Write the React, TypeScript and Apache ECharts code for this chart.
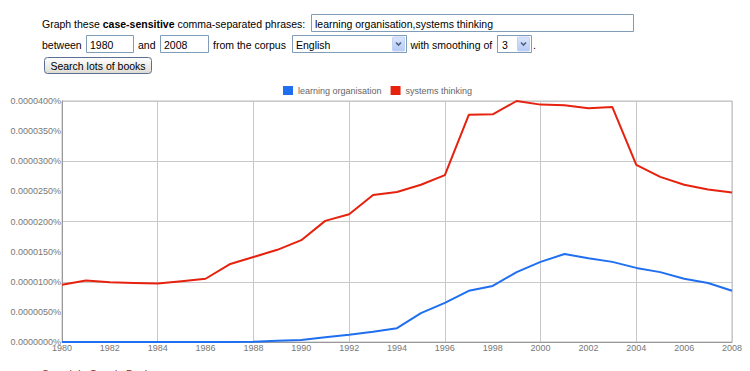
import React, { useEffect, useRef } from "react";
import * as echarts from "echarts";

const years: number[] = [
  1980, 1981, 1982, 1983, 1984, 1985, 1986, 1987, 1988, 1989, 1990, 1991, 1992, 1993, 1994,
  1995, 1996, 1997, 1998, 1999, 2000, 2001, 2002, 2003, 2004, 2005, 2006, 2007, 2008,
];

// values in percent
const learningOrganisation: number[] = [
  0.0000000, 0.0000000, 0.0000000, 0.0000000, 0.0000000, 0.0000000, 0.0000000, 0.0000000,
  0.00000005, 0.0000002, 0.00000035, 0.0000008, 0.0000012, 0.0000017, 0.0000023,
  0.0000048, 0.0000065, 0.0000085, 0.0000093, 0.0000116, 0.0000133, 0.0000146,
  0.0000139, 0.0000133, 0.0000123, 0.0000116, 0.0000105, 0.0000098, 0.0000085,
];

const systemsThinking: number[] = [
  0.0000095, 0.0000102, 0.0000099, 0.0000098, 0.0000097, 0.0000101, 0.0000105, 0.0000129,
  0.0000141, 0.0000153, 0.0000169, 0.0000201, 0.0000212, 0.0000244, 0.0000249,
  0.0000261, 0.0000277, 0.0000377, 0.0000378, 0.0000400, 0.0000394, 0.0000393,
  0.0000388, 0.0000390, 0.0000294, 0.0000274, 0.0000261, 0.0000253, 0.0000248,
];

const seriesNames: string[] = ["learning organisation", "systems thinking"];
const seriesColors: string[] = ["#1f6ff0", "#e6210e"];

const FONT = "Liberation Sans, Arial, sans-serif";

export default function App() {
  const ref = useRef<HTMLDivElement>(null);

  useEffect(() => {
    if (!ref.current) return;
    const chart = echarts.init(ref.current, undefined, { renderer: "svg" });

    const txt = (x: number, y: number, text: string, extra: any = {}) => ({
      type: "text",
      x,
      y,
      style: {
        text,
        fontSize: 10.5,
        fontFamily: FONT,
        fill: "#000",
        verticalAlign: "middle",
        ...extra,
      },
    });
    const box = (x: number, y: number, w: number, h: number) => ({
      type: "rect",
      shape: { x: x + 0.5, y: y + 0.5, width: w, height: h },
      style: { fill: "#fff", stroke: "#7f9db9", lineWidth: 1 },
    });
    const arrow = (x: number, y: number) => ({
      type: "group",
      children: [
        {
          type: "rect",
          shape: { x, y, width: 12, height: 14, r: 1 },
          style: {
            fill: new echarts.graphic.LinearGradient(0, 0, 0, 1, [
              { offset: 0, color: "#dbe6fc" },
              { offset: 1, color: "#b4c9f5" },
            ]),
            stroke: "#c3d3f6",
            lineWidth: 1,
          },
        },
        {
          type: "polyline",
          shape: { points: [[x + 3.5, y + 5.5], [x + 6, y + 8], [x + 8.5, y + 5.5]] },
          style: { stroke: "#4d6185", lineWidth: 1.6, fill: null },
        },
      ],
    });

    const graphic: any[] = [
      txt(42, 23.5, "{n|Graph these }{b|case-sensitive}{n| comma-separated phrases:}", {
        rich: {
          n: { fontSize: 10.5, fontFamily: FONT, fill: "#000", color: "#000" },
          b: { fontSize: 10.5, fontFamily: FONT, fontWeight: "bold", fill: "#000", color: "#000" },
        },
      }),
      box(311, 14, 322, 17),
      txt(315, 23.5, "learning organisation,systems thinking"),
      txt(42, 44.5, "between"),
      box(86, 35, 47, 17),
      txt(90, 44.5, "1980"),
      txt(138, 44.5, "and"),
      box(160, 35, 48, 17),
      txt(164, 44.5, "2008"),
      txt(213, 44.5, "from the corpus"),
      box(292, 35, 114, 17),
      txt(296, 44.5, "English"),
      arrow(392.5, 37),
      txt(410.5, 44.5, "with smoothing of"),
      box(497, 35, 34, 17),
      txt(502, 44.5, "3"),
      arrow(517.5, 37),
      txt(533, 44.5, "."),
      {
        type: "rect",
        shape: { x: 44.5, y: 57.5, width: 107, height: 16, r: 3 },
        style: {
          fill: new echarts.graphic.LinearGradient(0, 0, 0, 1, [
            { offset: 0, color: "#ffffff" },
            { offset: 1, color: "#dedbd3" },
          ]),
          stroke: "#5a6f91",
          lineWidth: 1,
        },
      },
      txt(98, 65.5, "Search lots of books", { align: "center" }),
      txt(42, 374, "Search in Google Books:", { fill: "#8a2a12" }),
    ];

    const axisLabelStyle = { fontSize: 9, color: "#777", fontFamily: FONT };

    chart.setOption({
      animation: false,
      backgroundColor: "#fff",
      textStyle: { fontFamily: FONT },
      graphic,
      legend: {
        data: seriesNames,
        left: 278,
        top: 81,
        icon: "rect",
        itemWidth: 10,
        itemHeight: 9,
        itemGap: 9,
        textStyle: { fontSize: 9, color: "#666", fontFamily: FONT },
      },
      grid: {
        left: 62,
        top: 101,
        width: 670,
        height: 241,
        show: true,
        borderColor: "#bdbdbd",
        borderWidth: 1,
        containLabel: false,
      },
      xAxis: [
        {
          type: "value",
          min: 1980,
          max: 2008,
          interval: 2,
          axisLine: { show: true, lineStyle: { color: "#999" } },
          axisTick: { show: false },
          splitLine: { show: false },
          axisLabel: { ...axisLabelStyle, margin: 1, formatter: (v: number) => String(v) },
        },
        {
          type: "value",
          min: 1980,
          max: 2008,
          interval: 4,
          position: "bottom",
          axisLine: { show: false },
          axisTick: { show: false },
          axisLabel: { show: false },
          splitLine: { show: true, lineStyle: { color: "#c8c8c8" } },
        },
      ],
      yAxis: [
        {
          type: "value",
          min: 0,
          max: 0.00004,
          interval: 0.000005,
          axisLine: { show: true, lineStyle: { color: "#999" } },
          axisTick: { show: false },
          splitLine: { show: false },
          axisLabel: {
            ...axisLabelStyle,
            margin: 1,
            formatter: (v: number) => v.toFixed(7) + "%",
          },
        },
        {
          type: "value",
          min: 0,
          max: 0.00004,
          interval: 0.00001,
          position: "left",
          axisLine: { show: false },
          axisTick: { show: false },
          axisLabel: { show: false },
          splitLine: { show: true, lineStyle: { color: "#c8c8c8" } },
        },
      ],
      series: [
        {
          name: seriesNames[0],
          type: "line",
          xAxisIndex: 0,
          yAxisIndex: 0,
          data: years.map((y, i) => [y, learningOrganisation[i]]),
          showSymbol: false,
          lineStyle: { width: 2, color: seriesColors[0] },
          itemStyle: { color: seriesColors[0] },
        },
        {
          name: seriesNames[1],
          type: "line",
          xAxisIndex: 0,
          yAxisIndex: 0,
          data: years.map((y, i) => [y, systemsThinking[i]]),
          showSymbol: false,
          lineStyle: { width: 2, color: seriesColors[1] },
          itemStyle: { color: seriesColors[1] },
        },
      ],
    });

    return () => chart.dispose();
  }, []);

  return (
    <div
      ref={ref}
      style={{ position: "absolute", left: 0, top: 0, width: 750, height: 371, background: "#fff" }}
    />
  );
}
